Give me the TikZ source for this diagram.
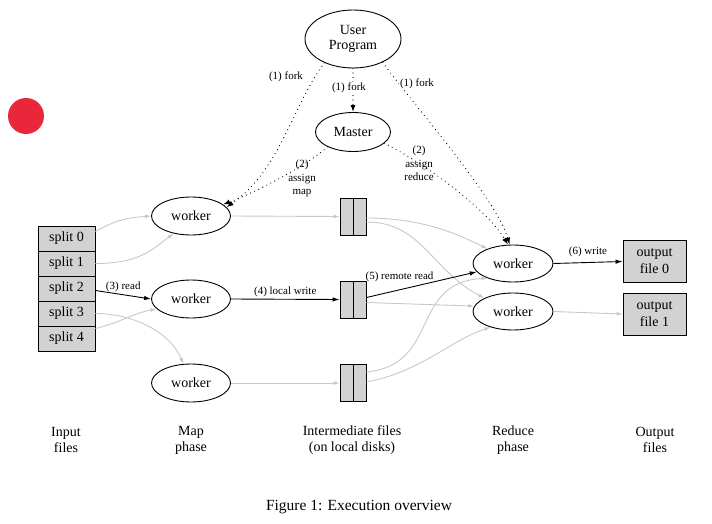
\documentclass[tikz,border=0pt]{standalone}
\usepackage{fontspec}
\setmainfont{Liberation Serif}
\usetikzlibrary{shapes.geometric,arrows.meta}
\definecolor{lgray}{RGB}{200,200,200}
\definecolor{boxfill}{RGB}{210,210,210}
\definecolor{dotred}{RGB}{232,40,58}
\begin{document}
\begin{tikzpicture}[x=1pt,y=-1pt,
 ell/.style={draw, ellipse, line width=0.9pt, inner sep=0pt, font=\fontsize{14}{15}\selectfont, align=center},
 wk/.style={ell, minimum width=79pt, minimum height=38pt},
 rwk/.style={ell, minimum width=80pt, minimum height=37pt},
 splitbox/.style={draw, fill=boxfill, line width=0.9pt, minimum width=57pt, minimum height=25pt, inner sep=0pt, font=\fontsize{14}{15}\selectfont},
 ifbox/.style={draw, fill=boxfill, line width=0.9pt, minimum width=26pt, minimum height=37pt, inner sep=0pt},
 outbox/.style={draw, fill=boxfill, line width=0.9pt, minimum width=63pt, minimum height=42pt, inner sep=0pt, align=center, font=\fontsize{14}{17}\selectfont},
 lbl/.style={font=\fontsize{11}{13.5}\selectfont, align=center, inner sep=1pt},
 phase/.style={font=\fontsize{14}{16}\selectfont, align=center, inner sep=0pt},
 gr/.style={draw=lgray, line width=0.9pt, -{Latex[length=6pt,width=4pt]}},
 bk/.style={draw=black, line width=0.9pt, -{Latex[length=7pt,width=4.5pt]}},
 dt/.style={draw=black, line width=1.2pt, line cap=round, dash pattern=on 0pt off 4.5pt, -{Latex[length=7pt,width=5pt]}}
]
\useasboundingbox (0,0) rectangle (712,524);
\fill[dotred] (26,116) circle (18pt);

% nodes
\node[ell, minimum width=96pt, minimum height=58pt] (up) at (353,39) {User\\Program};
\node[ell, minimum width=75pt, minimum height=39pt] (master) at (353,132) {Master};
\node[wk] (m1) at (191,216) {worker};
\node[wk] (m2) at (191,299) {worker};
\node[wk] (m3) at (191,383) {worker};
\node[splitbox] (s0) at (66.5,238.5) {split 0};
\node[splitbox] (s1) at (66.5,263.5) {split 1};
\node[splitbox] (s2) at (66.5,288.5) {split 2};
\node[splitbox] (s3) at (66.5,313.5) {split 3};
\node[splitbox] (s4) at (66.5,338.5) {split 4};
\node[ifbox] (if1) at (353,216.5) {};
\node[ifbox] (if2) at (353,299.5) {};
\node[ifbox] (if3) at (353,383) {};
\draw[line width=0.9pt] (if1.north) -- (if1.south);
\draw[line width=0.9pt] (if2.north) -- (if2.south);
\draw[line width=0.9pt] (if3.north) -- (if3.south);
\node[rwk] (r0) at (513,263.5) {worker};
\node[rwk] (r1) at (513,311.5) {worker};
\node[outbox] (o0) at (654.5,261.5) {output\\file 0};
\node[outbox] (o1) at (654.5,314) {output\\file 1};

% splits -> map workers
\draw[gr] ([yshift=7pt]s0.east) .. controls +(22,-12) and +(-25,2) .. (m1.west);
\draw[gr] (s1.east) .. controls +(45,0) and +(-20,15) .. (m1.-135);
\draw[bk] ([yshift=-2pt]s2.east) -- node[lbl, above, yshift=1pt] {(3) read} (m2.west);
\draw[gr] (s3.east) .. controls +(40,0) and +(-12,-30) .. (m3.112);
\draw[gr] ([yshift=10pt]s4.east) .. controls +(25,-6) and +(-25,5) .. (m2.-164);

% map workers -> intermediate files
\draw[gr] (m1.east) -- (if1.west);
\draw[bk] (m2.east) -- node[lbl, above, yshift=1pt] {(4) local write} (if2.west);
\draw[gr] (m3.east) -- (if3.west);

% intermediate files -> reduce workers
\draw[gr] ([yshift=-1.5pt]if1.east) .. controls +(60,0) and +(-25,-12) .. (r0.150);
\draw[gr] ([yshift=-5.5pt]if1.east) .. controls +(55,0) and +(-53,-28) .. (r1.155);
\draw[bk] ([yshift=2pt]if2.east) -- node[lbl, above=7pt, pos=0.3] {(5) remote read} (r0.193);
\draw[gr] ([yshift=-3pt]if2.east) -- (r1.172);
\draw[gr] ([yshift=11pt]if3.east) .. controls +(74,-7) and +(-78,4) .. (r0.-150);
\draw[gr] ([yshift=1pt]if3.east) .. controls +(54,-10) and +(-40,13) .. (r1.-145);

% reduce workers -> output files
\draw[bk] (r0.east) -- node[lbl, above, yshift=4pt] {(6) write} (o0.west);
\draw[gr] (r1.east) -- (o1.west);

% dotted control arrows
\draw[dt] (up.-140) .. controls +(-30,38) and +(54,-37) .. (m1.14);
\draw[dt] (master.-150) .. controls +(-15,15) and +(36,-13) .. (m1.20);
\draw[dt] (up.south) -- (master.north);
\draw[dt] (up.-38) .. controls +(22,32) and +(-14,-48) .. (r0.100);
\draw[dt] (master.-20) .. controls +(30,14) and +(-24,-40) .. (r0.105);

\node[lbl, fill=white] (lf1) at (286,77) {(1) fork};
\node[lbl, fill=white] (lf2) at (349,88) {(1) fork};
\node[lbl, fill=white] (lf3) at (417,84) {(1) fork};
\node[lbl] (la1) at (302,178.5) {(2)\\assign\\map};
\node[lbl] (la2) at (419,163.5) {(2)\\assign\\reduce};

% phase labels
\node[phase] (p1) at (66,440) {Input\\files};
\node[phase] (p2) at (191,440) {Map\\phase};
\node[phase] (p3) at (352,440) {Intermediate files\\(on local disks)};
\node[phase] (p4) at (513,440) {Reduce\\phase};
\node[phase] (p5) at (655,440) {Output\\files};
\node[font=\fontsize{15.5}{17}\selectfont] (cap) at (359,507) {Figure 1: Execution overview};
\end{tikzpicture}
\end{document}
